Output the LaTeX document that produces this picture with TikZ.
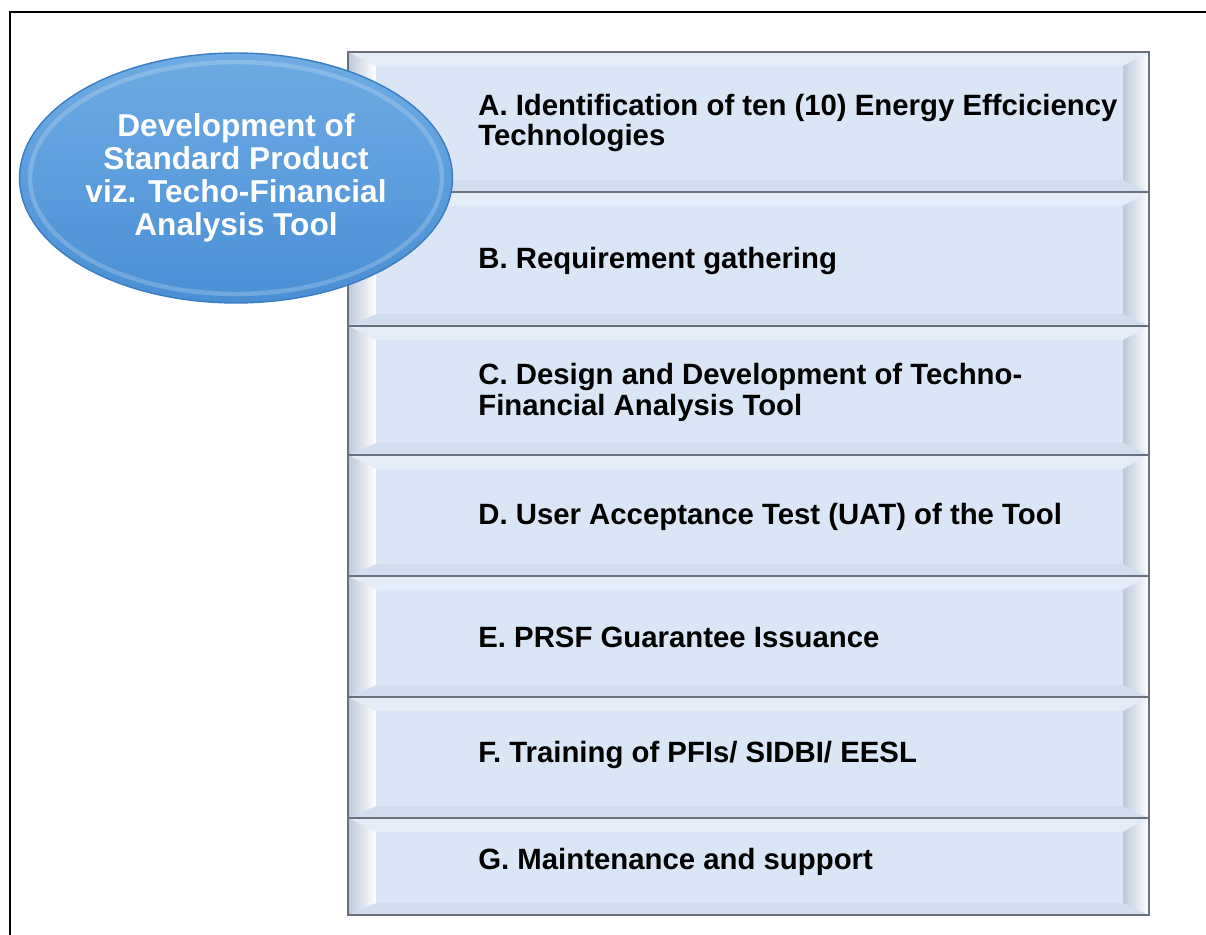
\documentclass[tikz,border=0pt]{standalone}
\usepackage{fontspec}
\setmainfont{Liberation Sans}
\usetikzlibrary{shapes.geometric}

\definecolor{panelfill}{HTML}{DAE5F5}
\definecolor{paneltop}{HTML}{E4ECF8}
\definecolor{panelbot}{HTML}{D2DDEE}
\definecolor{bevelgray}{HTML}{BCC8DA}
\definecolor{panelline}{HTML}{6A717C}
\definecolor{hubtop}{HTML}{6EABE4}
\definecolor{hubbot}{HTML}{4A8FD5}
\definecolor{hubline}{HTML}{3C7CC0}

\tikzset{
	steptext/.style={anchor=west,align=left,inner sep=0,font=\bfseries\fontsize{16.7}{17.6}\selectfont},
	hub/.style={ellipse,draw=hubline,line width=0.8pt,top color=hubtop,bottom color=hubbot,
		minimum width=8.66cm,minimum height=5cm,inner sep=0,align=center,text=white,
		font=\bfseries\fontsize{18}{18.8}\selectfont}
}

\begin{document}
\begin{tikzpicture}[x=0.02cm,y=-0.02cm]
	\useasboundingbox (0,0) rectangle (1206,935);
	\draw[line width=0.04cm] (10,935) -- (10,12) -- (1206,12);
	% bevelled panels
	\foreach \t/\b in {52/192,192/326,326/455,455/576,576/697,697/818,818/915}{
		\fill[panelfill] (348,\t) rectangle (1149,\b);
		\fill[paneltop] (348,\t) -- (1149,\t) -- (1123,\t+14) -- (376,\t+14) -- cycle;
		\fill[panelbot] (348,\b) -- (1149,\b) -- (1123,\b-12) -- (376,\b-12) -- cycle;
		\shade[left color=bevelgray,right color=white] (348,\t) -- (376,\t+14) -- (376,\b-12) -- (348,\b) -- cycle;
		\shade[left color=bevelgray,right color=white] (1123,\t+14) -- (1149,\t) -- (1149,\b) -- (1123,\b-12) -- cycle;
		\draw[panelline,line width=0.7pt] (348,\t) rectangle (1149,\b);
	}
	\node[steptext] (ta) at (478,123) {A. Identification of ten (10) Energy Effciciency\\Technologies};
	\node[steptext] (tb) at (478,261) {B. Requirement gathering};
	\node[steptext] (tc) at (478,392) {C. Design and Development of Techno-\\Financial Analysis Tool};
	\node[steptext] (td) at (478,517) {D. User Acceptance Test (UAT) of the Tool};
	\node[steptext] (te) at (478,637) {E. PRSF Guarantee Issuance};
	\node[steptext] (tf) at (478,755) {F. Training of PFIs/ SIDBI/ EESL};
	\node[steptext] (tg) at (478,862) {G. Maintenance and support};
	% title ellipse
	\node[hub] (hub) at (236,178) {Development of\\Standard Product\\viz. Techo-Financial\\Analysis Tool};
	\draw[white,opacity=0.2,line width=2.5pt] (hub.center) ellipse [x radius=4.12cm,y radius=2.32cm];
\end{tikzpicture}
\end{document}
